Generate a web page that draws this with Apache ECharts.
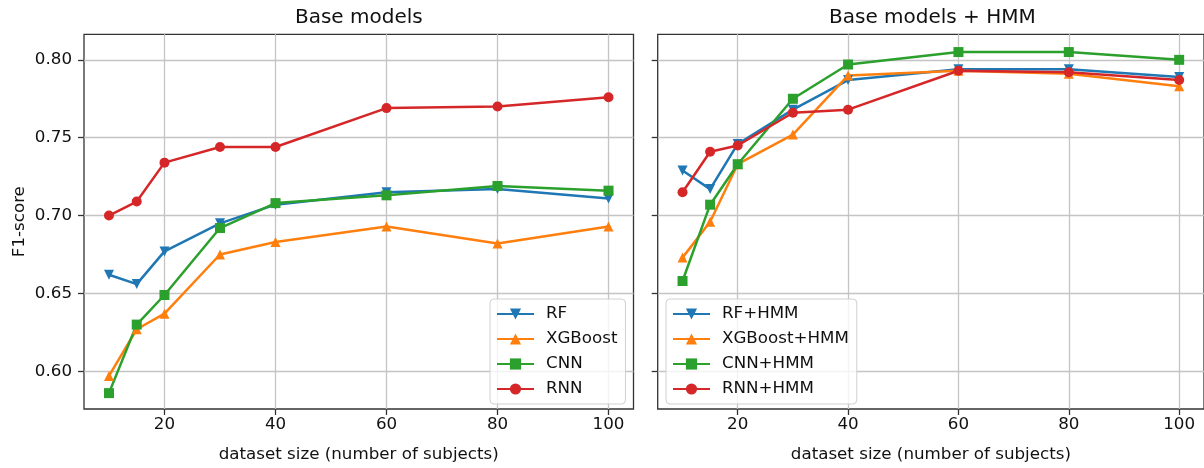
<!DOCTYPE html>
<html>
<head>
<meta charset="utf-8">
<script src="https://cdn.jsdelivr.net/npm/echarts@6/dist/echarts.min.js"></script>
<style>
  html, body { margin: 0; padding: 0; background: #fff; }
  #main { width: 1204px; height: 468px; }
</style>
</head>
<body>
<div id="main"></div>
<script>
// dataset sizes (number of subjects)
const sizes = [10, 15, 20, 30, 40, 60, 80, 100];

// F1-scores, base models
const rf = [0.662, 0.656, 0.677, 0.695, 0.707, 0.715, 0.717, 0.711];
const xgboost = [0.597, 0.627, 0.637, 0.675, 0.683, 0.693, 0.682, 0.693];
const cnn = [0.586, 0.630, 0.649, 0.692, 0.708, 0.713, 0.719, 0.716];
const rnn = [0.700, 0.709, 0.734, 0.744, 0.744, 0.769, 0.770, 0.776];

// F1-scores, base models + HMM
const rfHmm = [0.729, 0.717, 0.746, 0.768, 0.787, 0.794, 0.794, 0.789];
const xgboostHmm = [0.673, 0.696, 0.733, 0.752, 0.790, 0.793, 0.791, 0.783];
const cnnHmm = [0.658, 0.707, 0.733, 0.775, 0.797, 0.805, 0.805, 0.800];
const rnnHmm = [0.715, 0.741, 0.745, 0.766, 0.768, 0.793, 0.792, 0.787];

const xTicks = [20, 40, 60, 80, 100];
const yTicks = [0.60, 0.65, 0.70, 0.75, 0.80];

const FONT = 'DejaVu Sans';
const colors = ['#1f77b4', '#ff7f0e', '#2ca02c', '#d62728'];
const symbols = [
  { symbol: 'triangle', rotate: 180 },
  { symbol: 'triangle', rotate: 0 },
  { symbol: 'rect', rotate: 0 },
  { symbol: 'circle', rotate: 0 }
];

function pairs(ys) {
  return sizes.map(function (x, i) { return [x, ys[i]]; });
}

function makeSeries(name, ys, k, gridIdx) {
  return {
    name: name,
    type: 'line',
    xAxisIndex: gridIdx,
    yAxisIndex: gridIdx,
    data: pairs(ys),
    symbol: symbols[k].symbol,
    symbolRotate: symbols[k].rotate,
    symbolSize: 10,
    showSymbol: true,
    color: colors[k],
    lineStyle: { width: 2.5, color: colors[k] },
    itemStyle: { color: colors[k], borderWidth: 0 },
    emphasis: { disabled: true },
    z: 3
  };
}

function xAxis(gridIdx) {
  return {
    type: 'value',
    gridIndex: gridIdx,
    min: 5.5,
    max: 104.5,
    name: 'dataset size (number of subjects)',
    nameLocation: 'middle',
    nameGap: 37,
    nameTextStyle: { fontFamily: FONT, fontSize: 16.7, color: '#111' },
    axisLine: { show: false },
    axisTick: { show: true, length: 6, customValues: xTicks, lineStyle: { color: '#333', width: 1.3 } },
    axisLabel: { customValues: xTicks, margin: 7, fontFamily: FONT, fontSize: 16.7, color: '#111' },
    splitLine: { show: true, lineStyle: { color: '#c4c4c4', width: 1.3 } }
  };
}

function yAxis(gridIdx) {
  return {
    type: 'value',
    gridIndex: gridIdx,
    min: 0.5758,
    max: 0.8164,
    name: gridIdx === 0 ? 'F1-score' : '',
    nameLocation: 'middle',
    nameGap: 56,
    nameTextStyle: { fontFamily: FONT, fontSize: 16.7, color: '#111' },
    axisLine: { show: false },
    axisTick: { show: true, length: 6, customValues: yTicks, lineStyle: { color: '#333', width: 1.3 } },
    axisLabel: {
      show: gridIdx === 0,
      customValues: yTicks,
      margin: 12,
      fontFamily: FONT, fontSize: 16.7, color: '#111',
      formatter: function (v) { return v.toFixed(2); }
    },
    splitLine: { show: true, lineStyle: { color: '#c4c4c4', width: 1.3 } }
  };
}

function legend(names, left) {
  return {
    orient: 'vertical',
    left: left,
    top: 299,
    data: names,
    itemWidth: 37,
    itemHeight: 14,
    itemGap: 5,
    padding: [5, 8, 5, 6],
    backgroundColor: 'rgba(255,255,255,0.8)',
    borderColor: '#d0d0d0',
    borderWidth: 1,
    borderRadius: 4,
    selectedMode: false,
    textStyle: { fontFamily: FONT, fontSize: 16.7, color: '#111', lineHeight: 20, padding: [0, 0, 0, 7] }
  };
}

var myChart = echarts.init(document.getElementById('main'), null, { renderer: 'canvas' });

let option = {
  animation: false,
  backgroundColor: '#fff',
  title: [
    { text: 'Base models', left: 358.8, top: 8, textAlign: 'center', padding: 0,
      textStyle: { fontFamily: FONT, fontSize: 20, fontWeight: 'normal', color: '#111' } },
    { text: 'Base models + HMM', left: 932.4, top: 8, textAlign: 'center', padding: 0,
      textStyle: { fontFamily: FONT, fontSize: 20, fontWeight: 'normal', color: '#111' } }
  ],
  legend: [
    legend(['RF', 'XGBoost', 'CNN', 'RNN'], 490),
    legend(['RF+HMM', 'XGBoost+HMM', 'CNN+HMM', 'RNN+HMM'], 666)
  ],
  grid: [
    { left: 84, top: 34.3, width: 549.5, height: 377.7, show: true, borderColor: '#333', borderWidth: 1.3, backgroundColor: 'transparent' },
    { left: 657.7, top: 34.3, width: 549.5, height: 377.7, show: true, borderColor: '#333', borderWidth: 1.3, backgroundColor: 'transparent' }
  ],
  xAxis: [xAxis(0), xAxis(1)],
  yAxis: [yAxis(0), yAxis(1)],
  series: [
    makeSeries('RF', rf, 0, 0),
    makeSeries('XGBoost', xgboost, 1, 0),
    makeSeries('CNN', cnn, 2, 0),
    makeSeries('RNN', rnn, 3, 0),
    makeSeries('RF+HMM', rfHmm, 0, 1),
    makeSeries('XGBoost+HMM', xgboostHmm, 1, 1),
    makeSeries('CNN+HMM', cnnHmm, 2, 1),
    makeSeries('RNN+HMM', rnnHmm, 3, 1)
  ]
};

myChart.setOption(option);
</script>
</body>
</html>
